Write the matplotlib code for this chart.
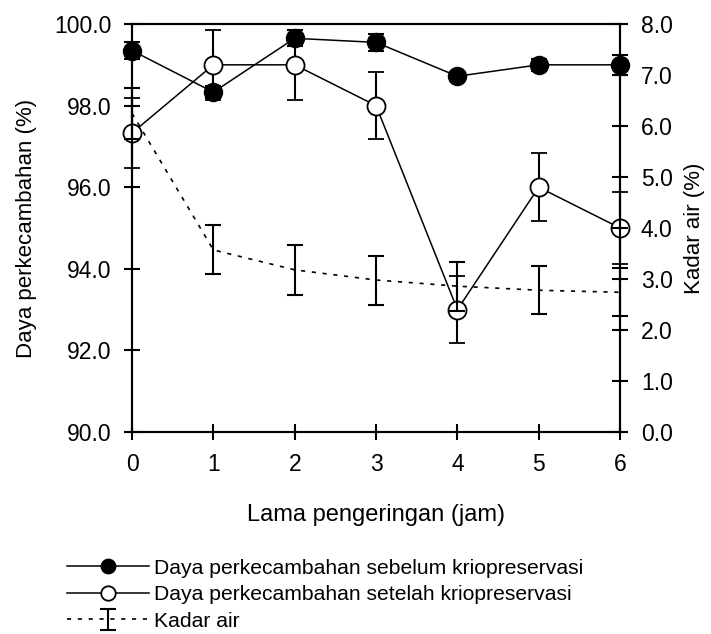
import matplotlib
matplotlib.use('Agg')
import matplotlib.pyplot as plt
import numpy as np

plt.rcParams['font.family'] = ['Liberation Sans', 'DejaVu Sans']

# lama pengeringan (jam)
jam = [0, 1, 2, 3, 4, 5, 6]
# daya perkecambahan (%)
sebelum = [99.35, 98.33, 99.65, 99.55, 98.72, 99.0, 99.0]
sebelum_err = [0.2, 0.15, 0.2, 0.2, 0.1, 0.15, 0.25]
setelah = [97.33, 99.0, 99.0, 98.0, 93.0, 96.0, 95.0]
setelah_err = [0.85, 0.85, 0.85, 0.83, 0.83, 0.83, 0.88]
# kadar air (%)
kadar = [6.25, 3.57, 3.18, 2.98, 2.86, 2.78, 2.74]
kadar_err = [0.5, 0.48, 0.49, 0.48, 0.48, 0.47, 0.47]

lbl_sebelum = 'Daya perkecambahan sebelum kriopreservasi'
lbl_setelah = 'Daya perkecambahan setelah kriopreservasi'
lbl_kadar = 'Kadar air'

fig = plt.figure(figsize=(7.11, 6.34), dpi=100)
ax1 = fig.add_axes([0.1857, 0.3186, 0.6864, 0.6435])
ax2 = ax1.twinx()

def unclip(cont):
	for a in cont.get_children():
		a.set_clip_on(False)

c1 = ax1.errorbar(jam, sebelum, yerr=sebelum_err, color='black', lw=1.1,
	marker='o', ms=13, mfc='black', mec='black', ecolor='black',
	elinewidth=1.5, capsize=5.5, capthick=1.5, zorder=3)
c2 = ax1.errorbar(jam, setelah, yerr=setelah_err, color='black', lw=1.1,
	marker='o', ms=13, mfc='white', mec='black', mew=1.3, ecolor='black',
	elinewidth=1.5, capsize=5.5, capthick=1.5, zorder=2)
c3 = ax2.errorbar(jam, kadar, yerr=kadar_err, color='black', lw=1.2,
	linestyle=(0, (2.5, 4)), ecolor='black', elinewidth=1.5, capsize=5.5,
	capthick=1.5)
for c in (c1, c2, c3):
	unclip(c)

ax1.set_xlim(0, 6)
ax1.set_ylim(90, 100)
ax2.set_ylim(0, 8)
ax1.set_xticks(jam)
ax1.set_yticks(np.arange(90, 100.1, 2))
ax1.set_yticklabels(['%.1f' % v for v in np.arange(90, 100.1, 2)])
ax2.set_yticks(np.arange(0, 8.1, 1))
ax2.set_yticklabels(['%.1f' % v for v in np.arange(0, 8.1, 1)])

for ax in (ax1, ax2):
	for s in ax.spines.values():
		s.set_linewidth(1.5)
	ax.tick_params(direction='inout', length=12, width=1.5, labelsize=16.5, pad=9)

ax1.set_xlabel('Lama pengeringan (jam)', fontsize=17, labelpad=20)
ax1.set_ylabel('Daya perkecambahan (%)', fontsize=16, labelpad=12)
ax2.set_ylabel('Kadar air (%)', fontsize=16, labelpad=8)

# legend handles: sebelum/setelah without error bars
h1 = c1.lines[0]
h2 = c2.lines[0]
fig.legend([h1, h2, c3], [lbl_sebelum, lbl_setelah, lbl_kadar],
	loc='upper left', bbox_to_anchor=(0.094, 0.119), frameon=False,
	fontsize=15.2, handlelength=3.9, handletextpad=0.25, markerscale=0.8,
	labelspacing=0.36, borderaxespad=0, borderpad=0)

fig.savefig('out.png', dpi=100)
